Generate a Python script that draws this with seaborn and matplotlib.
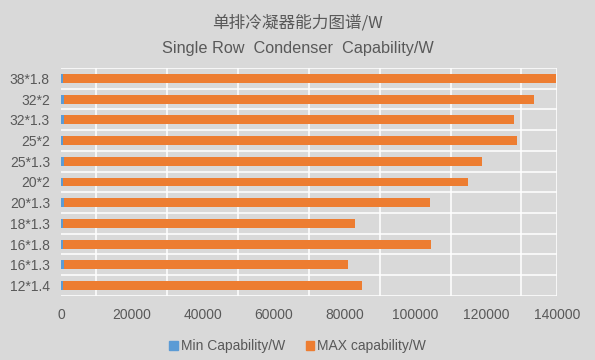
import numpy as np
import pandas as pd
import seaborn as sns
import matplotlib.pyplot as plt
from matplotlib.patches import Patch

# condenser specs, listed top to bottom as in the chart
specs = ["38*1.8", "32*2", "32*1.3", "25*2", "25*1.3", "20*2",
         "20*1.3", "18*1.3", "16*1.8", "16*1.3", "12*1.4"]
min_cap = [500, 850, 850, 500, 850, 500, 850, 500, 500, 850, 500]
max_cap = [139800, 133500, 127900, 128700, 118800, 114900,
           104200, 83000, 104400, 81000, 85000]
x_ticks = [0, 20000, 40000, 60000, 80000, 100000, 120000, 140000]

df = pd.DataFrame({"spec": specs, "min": min_cap, "max": max_cap})

bg = "#D9D9D9"
txt = "#595959"
blue = "#5B9BD5"
orange = "#ED7D31"

sns.set_theme(style="white")
plt.rcParams["font.family"] = ["Liberation Sans", "DejaVu Sans"]

fig, ax = plt.subplots(figsize=(5.95, 3.6), dpi=100)
fig.patch.set_facecolor(bg)
ax.set_facecolor(bg)
fig.subplots_adjust(left=0.1025, right=0.936, top=0.811, bottom=0.178)

sns.barplot(data=df, y="spec", x="max", order=specs, orient="h",
            color=orange, saturation=1, width=0.43, linewidth=0, ax=ax, zorder=3)
sns.barplot(data=df, y="spec", x="min", order=specs, orient="h",
            color=blue, saturation=1, width=0.43, linewidth=0, ax=ax, zorder=4)

ax.set_xlim(0, 140000)
ax.set_ylim(len(specs) - 0.5, -0.5)

# Excel-style grid: vertical lines offset half a step, horizontal lines between categories
for v in np.arange(10000, 140000, 20000):
    ax.axvline(v, color="white", lw=1.1, zorder=1)
ax.axvline(140000, color="white", lw=1.1, zorder=1)
for h in np.arange(-0.5, len(specs), 1.0):
    ax.axhline(h, color="white", lw=1.1, zorder=1)

for s in ax.spines.values():
    s.set_visible(False)

ax.set_xticks(x_ticks)
ax.set_xticklabels([str(t) for t in x_ticks])
ax.tick_params(axis="x", length=0, pad=9, labelsize=10, labelcolor=txt)
ax.tick_params(axis="y", length=0, pad=8, labelsize=10, labelcolor=txt)
ax.set_xlabel("")
ax.set_ylabel("")

fig.text(0.5, 1 - 23.5 / 360, "单排冷凝器能力图谱/W", ha="center", va="center",
         fontsize=12, color=txt, family=["Noto Sans CJK SC", "DejaVu Sans"])
fig.text(0.5, 1 - 48 / 360, "Single Row  Condenser  Capability/W", ha="center",
         va="center", fontsize=11.7, color=txt)

handles = [Patch(color=blue, label="Min Capability/W"),
           Patch(color=orange, label="MAX capability/W")]
leg = fig.legend(handles=handles, loc="center", bbox_to_anchor=(0.5, 1 - 346 / 360),
                 ncol=2, frameon=False, fontsize=10, handlelength=0.6,
                 handleheight=0.6, handletextpad=0.2, columnspacing=1.5)
for t in leg.get_texts():
    t.set_color(txt)

fig.savefig("out.png", dpi=100, facecolor=bg)
